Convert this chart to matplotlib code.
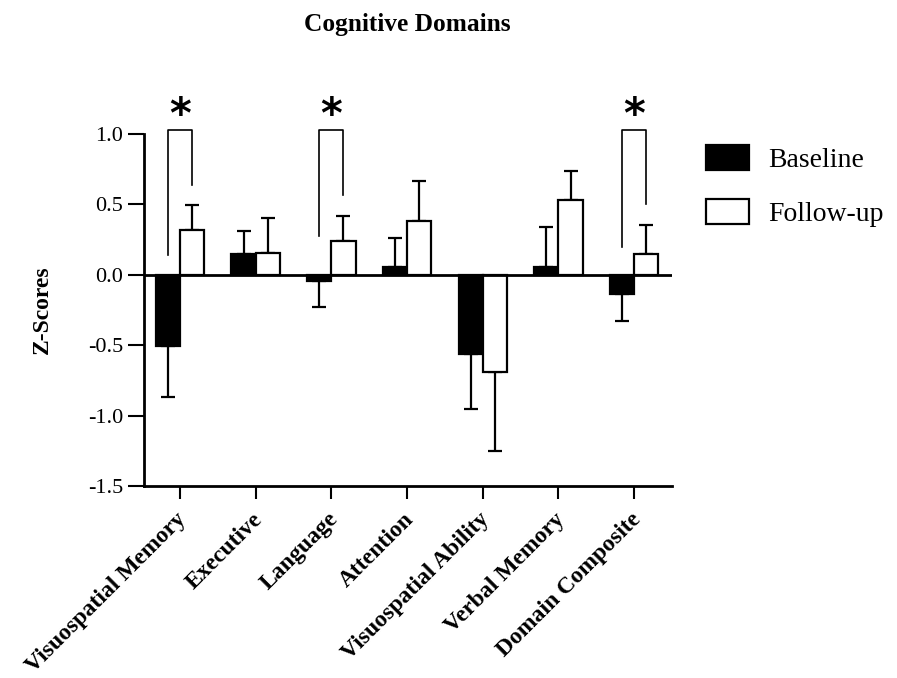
import matplotlib
matplotlib.use("Agg")
import matplotlib.pyplot as plt
import matplotlib.transforms as mtransforms
import numpy as np

categories = ["Visuospatial Memory", "Executive", "Language", "Attention",
              "Visuospatial Ability", "Verbal Memory", "Domain Composite"]
baseline = [-0.504, 0.149, -0.043, 0.057, -0.563, 0.057, -0.137]
baseline_err = [0.366, 0.159, 0.184, 0.203, 0.387, 0.279, 0.193]
followup = [0.317, 0.156, 0.237, 0.379, -0.689, 0.528, 0.151]
followup_err = [0.178, 0.244, 0.182, 0.289, 0.561, 0.206, 0.206]

# significance brackets: category index, left leg bottom, right leg bottom, top
sig_idx = [0, 2, 6]
sig_left = [0.142, 0.277, 0.199]
sig_right = [0.64, 0.566, 0.502]
sig_top = 1.027

yticks = [-1.5, -1.0, -0.5, 0.0, 0.5, 1.0]

plt.rcParams['font.family'] = ['Liberation Serif', 'DejaVu Serif']

W, H = 897, 678
fig = plt.figure(figsize=(W / 100, H / 100), dpi=100)
ax = fig.add_axes([144 / W, 1 - 486 / H, (672 - 144) / W, (486 - 134) / H])

x = np.arange(len(categories))
bw = 0.32
lw = 1.6

def one_sided(vals, errs):
    lo = [e if v < 0 else 0 for v, e in zip(vals, errs)]
    hi = [e if v >= 0 else 0 for v, e in zip(vals, errs)]
    return [lo, hi]

ax.errorbar(x - bw / 2, baseline, yerr=one_sided(baseline, baseline_err), fmt='none',
            ecolor='black', elinewidth=lw, capsize=4.7, capthick=lw, zorder=1)
ax.errorbar(x + bw / 2, followup, yerr=one_sided(followup, followup_err), fmt='none',
            ecolor='black', elinewidth=lw, capsize=4.7, capthick=lw, zorder=1)
ax.bar(x - bw / 2, baseline, width=bw, color='black', edgecolor='black', linewidth=lw,
       label='Baseline', zorder=2)
ax.bar(x + bw / 2, followup, width=bw, color='white', edgecolor='black', linewidth=lw,
       label='Follow-up', zorder=2)

ax.axhline(0, color='black', linewidth=2, zorder=3)

for i, l, r in zip(sig_idx, sig_left, sig_right):
    xl, xr = i - bw / 2, i + bw / 2
    ax.plot([xl, xl, xr, xr], [l, sig_top, sig_top, r], color='black', lw=1.2,
            clip_on=False, zorder=4)
    ax.text(i, 1.13, "*", ha='center', va='center', fontsize=30, fontweight='bold',
            family='DejaVu Sans', clip_on=False)

ax.set_xlim(-0.475, 6.5)
ax.set_ylim(-1.5, 1.0)
ax.set_yticks(yticks)
ax.set_yticklabels([f"{t:.1f}" for t in yticks])
ax.set_xticks(x)
ax.set_xticklabels(categories, rotation=45, ha='right', rotation_mode='anchor',
                   fontweight='bold', fontsize=17)
ax.tick_params(axis='y', direction='out', length=11.5, width=1.5, labelsize=16, pad=3.6)
ax.tick_params(axis='x', direction='out', length=9.4, width=1.5, pad=7)
offset = mtransforms.ScaledTranslation(-4 / 100, 0, fig.dpi_scale_trans)
for lab in ax.get_xticklabels():
    lab.set_transform(lab.get_transform() + offset)
for s in ['top', 'right']:
    ax.spines[s].set_visible(False)
for s in ['left', 'bottom']:
    ax.spines[s].set_linewidth(2)

ax.set_ylabel("Z-Scores", fontweight='bold', fontsize=17)
ax.yaxis.set_label_coords(-0.172, 0.5)

fig.text(407 / W, 1 - 24 / H, "Cognitive Domains", ha='center', va='center',
         fontsize=18.3, fontweight='bold')

ax.legend(loc='upper left', bbox_to_anchor=(706 / W, 1 - 145 / H),
          bbox_transform=fig.transFigure, frameon=False, fontsize=20,
          handlelength=1.55, handleheight=1.0, labelspacing=0.94,
          handletextpad=0.68, borderpad=0, borderaxespad=0)

fig.savefig("out.png", dpi=100)
